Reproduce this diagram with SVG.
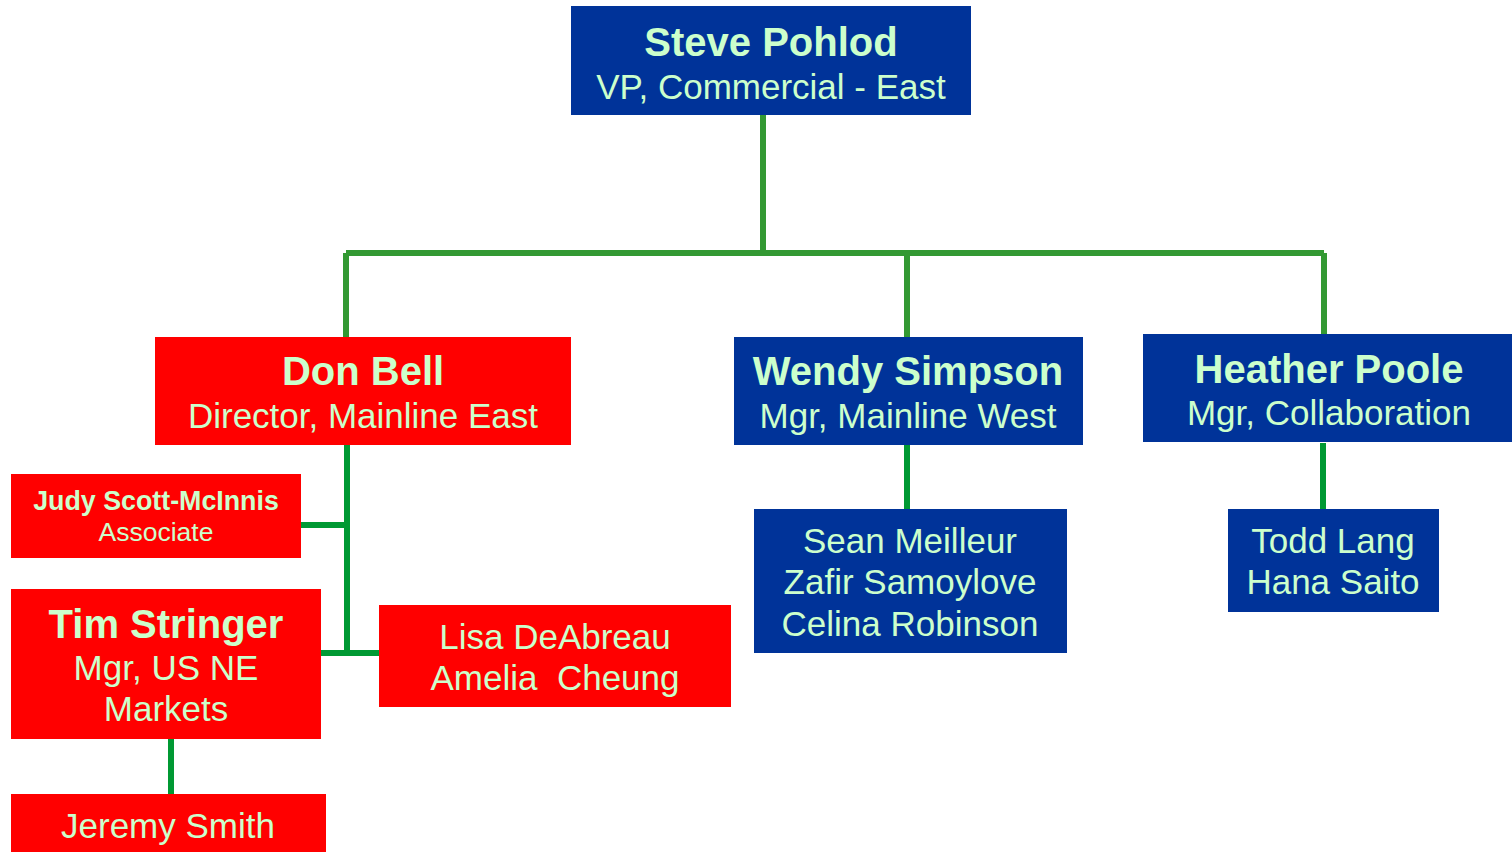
<svg xmlns="http://www.w3.org/2000/svg" width="1512" height="852" viewBox="0 0 1512 852">
<style>
.blue{fill:#003399}
.red{fill:#FF0000}
text{font-family:"Liberation Sans",Arial,sans-serif;fill:#CCFFCC;text-anchor:middle}
.b{font-weight:bold;font-size:40px}
.r{font-size:35px}
.sb{font-weight:bold;font-size:26.8px}
.sr{font-size:26.5px}
.c1{stroke:#339933;stroke-width:6;fill:none}
.c2{stroke:#009933;stroke-width:6;fill:none}
</style>
<rect width="1512" height="852" fill="#FFFFFF"/>
<g id="connectors">
<path class="c1" d="M763 115 V253 M346 253 H1324 M346 253 V337 M907 253 V337 M1324 253 V334"/>
<path class="c2" d="M347 445 V653 M301 525 H347 M321 653 H379 M907 445 V509 M1323 443 V509 M171 739 V795"/>
</g>
<g id="steve">
<rect class="blue" x="571" y="6" width="400" height="109"/>
<text class="b" x="771" y="56">Steve Pohlod</text>
<text class="r" x="771" y="99">VP, Commercial - East</text>
</g>
<g id="don">
<rect class="red" x="155" y="337" width="416" height="108"/>
<text class="b" x="363" y="385">Don Bell</text>
<text class="r" x="363" y="428">Director, Mainline East</text>
</g>
<g id="wendy">
<rect class="blue" x="734" y="337" width="349" height="108"/>
<text class="b" x="908" y="385">Wendy Simpson</text>
<text class="r" x="908" y="428">Mgr, Mainline West</text>
</g>
<g id="heather">
<rect class="blue" x="1143" y="334" width="369" height="108"/>
<text class="b" x="1329" y="383">Heather Poole</text>
<text class="r" x="1329" y="425">Mgr, Collaboration</text>
</g>
<g id="judy">
<rect class="red" x="11" y="474" width="290" height="84"/>
<text class="sb" x="156" y="510">Judy Scott-McInnis</text>
<text class="sr" x="156" y="541">Associate</text>
</g>
<g id="tim">
<rect class="red" x="11" y="589" width="310" height="150"/>
<text class="b" x="166" y="638">Tim Stringer</text>
<text class="r" x="166" y="680">Mgr, US NE</text>
<text class="r" x="166" y="721">Markets</text>
</g>
<g id="lisa">
<rect class="red" x="379" y="605" width="352" height="102"/>
<text class="r" x="555" y="649">Lisa DeAbreau</text>
<text class="r" x="555" y="690" xml:space="preserve">Amelia  Cheung</text>
</g>
<g id="sean">
<rect class="blue" x="754" y="509" width="313" height="144"/>
<text class="r" x="910" y="553">Sean Meilleur</text>
<text class="r" x="910" y="594">Zafir Samoylove</text>
<text class="r" x="910" y="636">Celina Robinson</text>
</g>
<g id="todd">
<rect class="blue" x="1228" y="509" width="211" height="103"/>
<text class="r" x="1333" y="553">Todd Lang</text>
<text class="r" x="1333" y="594">Hana Saito</text>
</g>
<g id="jeremy">
<rect class="red" x="11" y="794" width="315" height="58"/>
<text class="r" x="168" y="838">Jeremy Smith</text>
</g>
</svg>
